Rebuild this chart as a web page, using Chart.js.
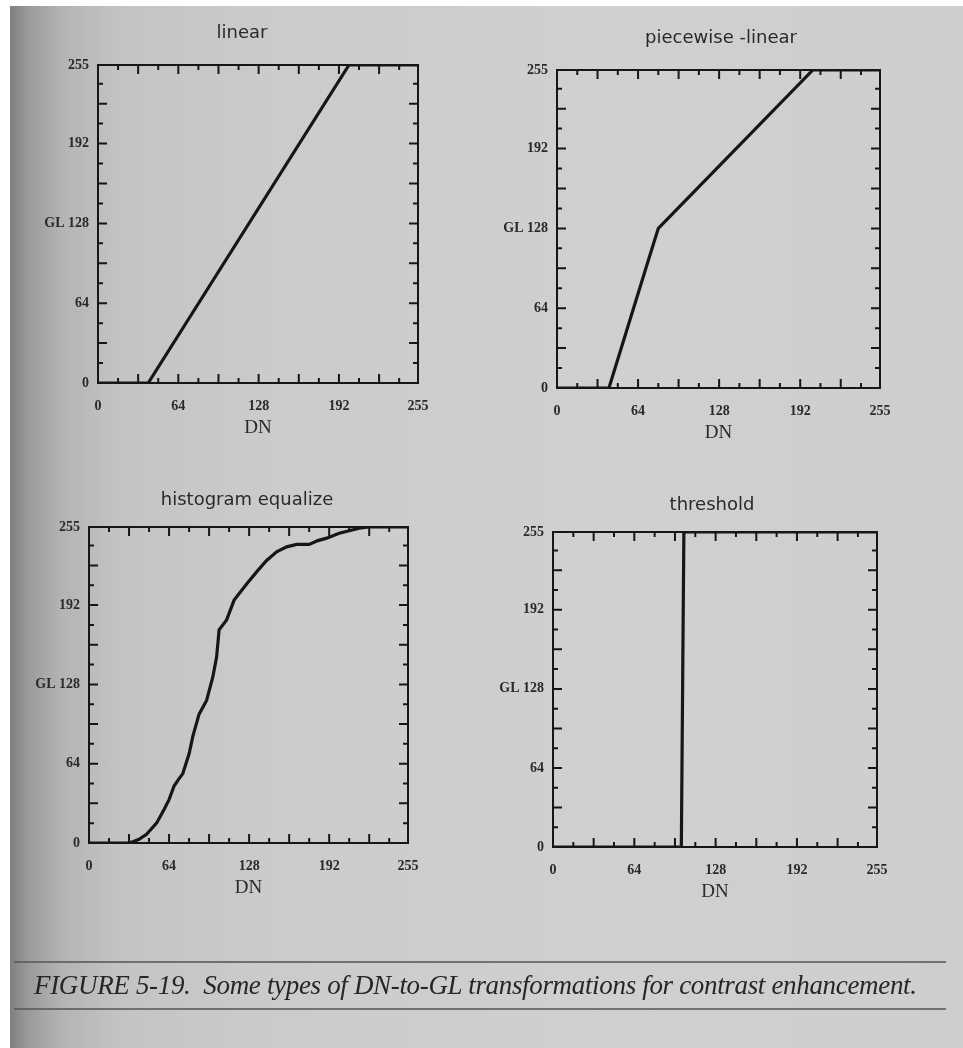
<!DOCTYPE html>
<html>
<head>
<meta charset="utf-8">
<script src="https://cdn.jsdelivr.net/npm/chart.js@4.4.1/dist/chart.umd.min.js"></script>
<style>
  html, body { margin: 0; padding: 0; background: #fff; }
  body { width: 963px; height: 1048px; position: relative; overflow: hidden; }
  #page {
    position: absolute; left: 10px; top: 6px; right: 0; bottom: 0;
    background: linear-gradient(to right, #808080 0px, #9a9a9a 18px, #b3b3b3 50px,
      #c4c4c4 110px, #cbcbcb 260px, #d0d0d0 600px, #cecece 100%);
  }
  canvas { position: absolute; left: 0; top: 0; }
  .rule { position: absolute; left: 14px; width: 932px; height: 2px; background: #5a5a5a; opacity: .8; }
  #caption {
    position: absolute; left: 34px; top: 970px; white-space: nowrap;
    font: italic 27px "Liberation Serif", serif; color: #262626; letter-spacing: -0.33px;
  }
</style>
</head>
<body>
<div id="page"></div>
<canvas id="c-linear" width="963" height="1048"></canvas>
<canvas id="c-piecewise" width="963" height="1048"></canvas>
<canvas id="c-histogram" width="963" height="1048"></canvas>
<canvas id="c-threshold" width="963" height="1048"></canvas>
<div class="rule" style="top:961px"></div>
<div id="caption">FIGURE 5-19.&nbsp; Some types of DN-to-GL transformations for contrast enhancement.</div>
<div class="rule" style="top:1008px"></div>
<script>
// ── Data ──────────────────────────────────────────────────────────────────

const TITLES = ['linear', 'piecewise -linear', 'histogram equalize', 'threshold'];
const TICK_VALUES = [0, 64, 128, 192, 255];
const X_LABEL = 'DN';
const Y_LABEL = 'GL';

const LINEAR_DN = [0, 40, 200, 255];
const LINEAR_GL = [0, 0, 255, 255];

const PIECEWISE_DN = [0, 41, 72, 80, 202, 255];
const PIECEWISE_GL = [0, 0, 102, 128, 255, 255];

const HIST_DN = [0, 31, 35, 40, 46, 54, 60, 64, 68, 72, 75, 80, 83, 88, 94, 99, 102, 104,
  110, 116, 126, 135, 142, 150, 158, 166, 176, 183, 190, 200, 208, 216, 224, 255];
const HIST_GL = [0, 0, 1, 3, 7, 16, 27, 35, 46, 52, 56, 72, 86, 104, 115, 134, 150, 172,
  180, 196, 209, 220, 228, 235, 239, 241, 241, 244, 246, 250, 252, 254, 255, 255];

const THRESH_DN = [0, 101, 103, 255];
const THRESH_GL = [0, 0, 255, 255];

// ── Layout of the four panels on the page (plot box + title centre) ───────

const PANELS = [
  { id: 'c-linear',    dn: LINEAR_DN,    gl: LINEAR_GL,    box: [98, 65, 418, 383],  title: [242, 33] },
  { id: 'c-piecewise', dn: PIECEWISE_DN, gl: PIECEWISE_GL, box: [557, 70, 880, 388], title: [721, 38] },
  { id: 'c-histogram', dn: HIST_DN,      gl: HIST_GL,      box: [89, 527, 408, 843], title: [247, 500] },
  { id: 'c-threshold', dn: THRESH_DN,    gl: THRESH_GL,    box: [553, 532, 877, 847], title: [712, 505] },
];

const INK = '#161616';
const TEXT = '#2a2a2a';
const Y_AXIS_W = 60;
const X_AXIS_H = 56;
const MINOR_STEP = 16;
const MAJOR_STEP = 32;

// ── Frame, inward ticks and panel title ───────────────────────────────────

const frameTicks = {
  id: 'frameTicks',
  beforeDatasetsDraw(chart) {
    const { ctx, chartArea: { left, right, top, bottom } } = chart;
    const x = chart.scales.x, y = chart.scales.y;
    ctx.save();
    ctx.strokeStyle = INK;
    ctx.lineWidth = 2;
    ctx.strokeRect(left, top, right - left, bottom - top);
    ctx.beginPath();
    for (let v = MINOR_STEP; v < 255; v += MINOR_STEP) {
      const len = v % MAJOR_STEP === 0 ? 9 : 5;
      const px = x.getPixelForValue(v);
      const py = y.getPixelForValue(v);
      ctx.moveTo(px, bottom); ctx.lineTo(px, bottom - len);
      ctx.moveTo(px, top);    ctx.lineTo(px, top + len);
      ctx.moveTo(left, py);   ctx.lineTo(left + len, py);
      ctx.moveTo(right, py);  ctx.lineTo(right - len, py);
    }
    ctx.stroke();
    ctx.restore();
  },
  afterDraw(chart, args, opts) {
    const { ctx } = chart;
    ctx.save();
    ctx.fillStyle = TEXT;
    ctx.font = '18px "DejaVu Sans", sans-serif';
    ctx.textAlign = 'center';
    ctx.textBaseline = 'middle';
    ctx.fillText(opts.text, opts.x, opts.y);
    ctx.restore();
  },
};

function fixedTicks(scale) {
  scale.ticks = TICK_VALUES.map(v => ({ value: v }));
}

function makeChart(p, i) {
  const [l, t, r, b] = p.box;
  new Chart(document.getElementById(p.id), {
    type: 'scatter',
    data: {
      datasets: [{
        data: p.dn.map((v, k) => ({ x: v, y: p.gl[k] })),
        showLine: true,
        borderColor: INK,
        borderWidth: 3.2,
        pointRadius: 0,
        tension: 0,
      }],
    },
    options: {
      responsive: false,
      animation: false,
      events: [],
      layout: { padding: { left: l - Y_AXIS_W, top: t, right: 963 - r, bottom: 1048 - b - X_AXIS_H } },
      plugins: {
        legend: { display: false },
        tooltip: { enabled: false },
        frameTicks: { text: TITLES[i], x: p.title[0], y: p.title[1] },
      },
      scales: {
        x: {
          type: 'linear', min: 0, max: 255,
          afterBuildTicks: fixedTicks,
          afterFit: s => { s.height = X_AXIS_H; },
          grid: { display: false, drawTicks: false },
          border: { display: false },
          ticks: {
            autoSkip: false, maxRotation: 0, padding: 15, color: TEXT,
            font: { family: '"Liberation Serif", serif', size: 14, weight: 'bold' },
          },
          title: {
            display: true, text: X_LABEL, color: TEXT, padding: 0,
            font: { family: '"Liberation Serif", serif', size: 19 },
          },
        },
        y: {
          type: 'linear', min: 0, max: 255,
          afterBuildTicks: fixedTicks,
          afterFit: s => { s.width = Y_AXIS_W; },
          grid: { display: false, drawTicks: false },
          border: { display: false },
          ticks: {
            autoSkip: false, padding: 9, color: TEXT,
            font: { family: '"Liberation Serif", serif', size: 14, weight: 'bold' },
            callback: v => v === 128 ? `${Y_LABEL} ${v}` : v,
          },
        },
      },
    },
    plugins: [frameTicks],
  });
}

PANELS.forEach(makeChart);
</script>
</body>
</html>
